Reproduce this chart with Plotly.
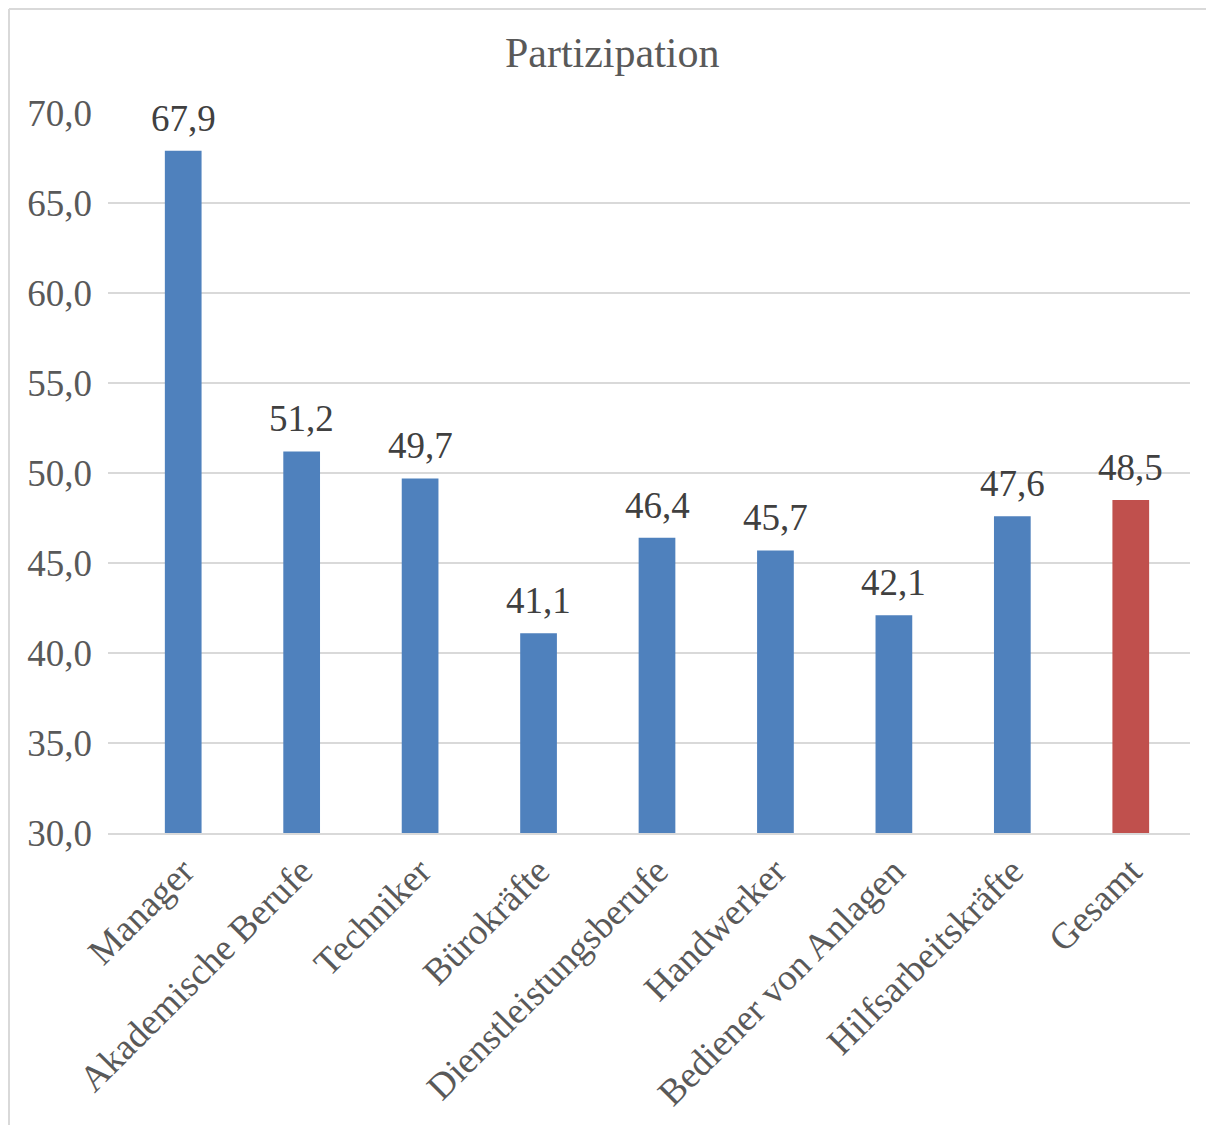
import plotly.graph_objects as go

categories = ["Manager", "Akademische Berufe", "Techniker", "Bürokräfte",
              "Dienstleistungsberufe", "Handwerker", "Bediener von Anlagen",
              "Hilfsarbeitskräfte", "Gesamt"]
values = [67.9, 51.2, 49.7, 41.1, 46.4, 45.7, 42.1, 47.6, 48.5]
bar_colors = ["#4F81BD"] * 8 + ["#C0504D"]

# page body has an 8px margin, so the figure is laid out 8px smaller
W, H = 1206, 1117
left, right, top, bottom = 100, 1182, 105, 825

fig = go.Figure(
    go.Bar(
        x=categories,
        y=values,
        marker_color=bar_colors,
        marker_line_width=0,
        width=0.31,
        cliponaxis=False,
    )
)

# value labels above the bars
for cat, val in zip(categories, values):
    fig.add_annotation(
        x=cat, y=val, text=f"{val:.1f}".replace(".", ","),
        showarrow=False, yanchor="bottom", yshift=10,
        font=dict(size=37, color="#404040", family="Liberation Serif"),
    )

pw = right - left
ph = bottom - top
border = dict(color="#D9D9D9", width=2)
fig.add_shape(type="line", xref="paper", yref="paper",
              x0=(1 - left) / pw, x1=(W + 20 - left) / pw,
              y0=(bottom - 1) / ph, y1=(bottom - 1) / ph, line=border)
fig.add_shape(type="line", xref="paper", yref="paper",
              x0=(1 - left) / pw, x1=(1 - left) / pw,
              y0=(bottom - 1) / ph, y1=(bottom - H - 20) / ph, line=border)

fig.update_layout(
    width=W, height=H,
    margin=dict(l=left, r=W - right, t=top, b=H - bottom),
    plot_bgcolor="#ffffff", paper_bgcolor="#ffffff",
    separators=",.",
    showlegend=False,
    font=dict(family="Liberation Serif", color="#595959"),
    title=dict(text="Partizipation", x=0.501, xanchor="center",
               y=1 - 44 / H, yanchor="middle", yref="container",
               font=dict(size=42, color="#595959")),
)
fig.update_yaxes(
    range=[30, 70], dtick=5, tickformat=".1f",
    showgrid=True, gridcolor="#D9D9D9", gridwidth=1.5,
    zeroline=False, showline=False,
    tickfont=dict(size=37, color="#595959"),
    ticklabelstandoff=15,
)
fig.update_xaxes(
    range=[-0.635, 8.5], tickangle=-45,
    showline=True, linecolor="#D9D9D9", linewidth=1.5,
    tickfont=dict(size=37, color="#595959"),
)

fig.write_html("out.html")
